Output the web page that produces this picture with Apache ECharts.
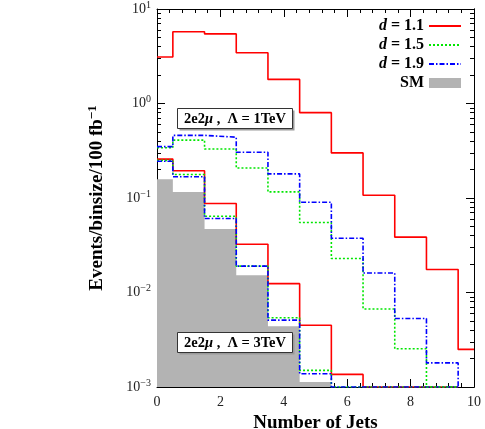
<!DOCTYPE html>
<html>
<head>
<meta charset="utf-8">
<script src="https://cdn.jsdelivr.net/npm/echarts@6/dist/echarts.min.js"></script>
<style>
  html, body { margin: 0; padding: 0; background: #fff; }
  #main { width: 485px; height: 429px; }
</style>
</head>
<body>
<div id="main"></div>
<script>
// bins are centred on 0,1,...,10 jets, each 1 wide (first one clipped at 0)
var X_MIN = 0, X_MAX = 10;
var Y_MIN = 0.001, Y_MAX = 10;

// Lambda = 1 TeV
var d11_1tev = [3.1, 5.75, 5.45, 3.45, 1.8, 0.8, 0.3, 0.107, 0.0385, 0.0175, 0.0025];
var d15_1tev = [0.34, 0.41, 0.33, 0.208, 0.116, 0.055, 0.0229, 0.0067, 0.00254, 0, 0];
var d19_1tev = [0.35, 0.46, 0.44, 0.305, 0.18, 0.09, 0.0375, 0.0161, 0.0053, 0.0018, 0];

// Lambda = 3 TeV
var d11_3tev = [0.258, 0.194, 0.0875, 0.0324, 0.0124, 0.0045, 0.00136, 0, 0, 0, 0];
var d15_3tev = [0.25, 0.177, 0.064, 0.019, 0.0054, 0.0015, 0, 0, 0, 0, 0];
var d19_3tev = [0.245, 0.168, 0.0607, 0.019, 0.0051, 0.00138, 0, 0, 0, 0, 0];

// standard model background
var sm = [0.158, 0.116, 0.047, 0.0152, 0.0044, 0.00113, 0];

var legendNames = ["d = 1.1", "d = 1.5", "d = 1.9", "SM"];
var xTicks = [0, 2, 4, 6, 8, 10];
// minor log ticks, as exponents (2..9 within every decade)
var yMinorExp = [];
[-3, -2, -1, 0].forEach(function (e) {
  for (var k = 2; k <= 9; k++) yMinorExp.push(e + Math.log10(k));
});

// turn bin contents into histogram step points (left edges + closing edge)
function stepData(values) {
  var pts = values.map(function (v, i) {
    return [Math.max(i - 0.5, X_MIN), v > 0 ? v : Y_MIN];
  });
  var last = values.length - 1;
  if (values[last] > 0) {
    pts.push([Math.min(last + 0.5, X_MAX), values[last]]);
  }
  return pts;
}

var RED = "#ff0000", GREEN = "#00e600", BLUE = "#0000ff", GREY = "#b3b3b3";
var FONT = "Liberation Serif";
var DOTTED = [2, 2];
var DASHDOT = [5, 2, 1.5, 2];

function histLine(name, values, color, type) {
  return {
    type: "line",
    name: name,
    step: "end",
    symbol: "none",
    data: stepData(values),
    z: 3,
    lineStyle: { color: color, width: 1.6, type: type },
    itemStyle: { color: color },
    emphasis: { disabled: true },
  };
}

var chartDom = document.getElementById("main");
var myChart = echarts.init(chartDom);
var option;

// extra exponent-space axes, only used to draw the tick marks
function yTickAxis(position, length, minor) {
  var ax = {
    type: "value",
    min: -3,
    max: 1,
    interval: 1,
    position: position,
    axisLine: { show: position === "right", onZero: false, lineStyle: { color: "#000", width: 1 } },
    axisTick: { show: true, inside: true, length: length, lineStyle: { color: "#000" } },
    axisLabel: { show: false },
    splitLine: { show: false },
  };
  if (minor) ax.axisTick.customValues = yMinorExp;
  return ax;
}

function xAxisAt(position, withLabels) {
  var ax = {
    type: "value",
    min: X_MIN,
    max: X_MAX,
    interval: 2,
    position: position,
    axisLine: { onZero: false, lineStyle: { color: "#000", width: 1 } },
    axisTick: { inside: true, length: 8, lineStyle: { color: "#000" } },
    minorTick: { show: true, splitNumber: 5, length: 4, lineStyle: { color: "#000" } },
    axisLabel: { show: false },
    splitLine: { show: false },
  };
  if (withLabels) {
    ax.name = "Number of Jets";
    ax.nameLocation = "middle";
    ax.nameGap = 24;
    ax.nameTextStyle = { fontFamily: FONT, fontSize: 19, fontWeight: "bold", color: "#000" };
    ax.axisLabel = { fontFamily: FONT, fontSize: 14, color: "#222", margin: 8, customValues: xTicks };
  }
  return ax;
}

var labelRich = {
  b: { fontFamily: FONT, fontSize: 16, fontWeight: "bold", color: "#000" },
  i: { fontFamily: FONT, fontSize: 16, fontWeight: "bold", fontStyle: "italic", color: "#000" },
};

function boxLabel(top, tev) {
  return {
    type: "group",
    left: 177,
    top: top,
    z: 100,
    children: [
      { type: "rect", z: 100, shape: { x: 2, y: 2, width: 115, height: 20 }, style: { fill: "#9a9a9a" } },
      { type: "rect", z: 101, shape: { x: 0, y: 0, width: 115, height: 20 }, style: { fill: "#fff", stroke: "#333", lineWidth: 1 } },
      {
        type: "text",
        z: 102,
        x: 57.5,
        y: 10.5,
        style: {
          text: "{b|2e2}{i|μ}{b| ,  Λ = " + tev + "TeV}",
          align: "center",
          verticalAlign: "middle",
          rich: {
            b: { fontFamily: FONT, fontSize: 14.5, fontWeight: "bold", fill: "#000" },
            i: { fontFamily: FONT, fontSize: 14.5, fontWeight: "bold", fontStyle: "italic", fill: "#000" },
          },
        },
      },
    ],
  };
}

option = {
  backgroundColor: "#fff",
  animation: false,
  grid: { left: 157, right: 11, top: 9, bottom: 42, containLabel: false, outerBoundsMode: "none" },
  legend: {
    orient: "vertical",
    right: 18,
    top: 13,
    align: "right",
    itemWidth: 32,
    itemHeight: 10,
    itemGap: 3,
    selectedMode: false,
    itemStyle: { opacity: 0 },
    lineStyle: { width: 2 },
    data: [
      { name: legendNames[0] },
      { name: legendNames[1] },
      { name: legendNames[2] },
      { name: legendNames[3], icon: "rect", itemStyle: { color: GREY, opacity: 1 } },
    ],
    formatter: function (name) {
      if (name === "SM") return "{b|SM}";
      return "{i|d}{b| = " + name.split("= ")[1] + "}";
    },
    textStyle: { lineHeight: 16, rich: labelRich },
  },
  xAxis: [xAxisAt("bottom", true), xAxisAt("top", false)],
  yAxis: [
    {
      type: "log",
      min: Y_MIN,
      max: Y_MAX,
      position: "left",
      name: "Events/binsize/100 fb{sup|−1}",
      nameLocation: "middle",
      nameGap: 48,
      nameTextStyle: {
        fontFamily: FONT,
        fontSize: 19,
        fontWeight: "bold",
        color: "#000",
        rich: {
          sup: { fontFamily: FONT, fontSize: 13, fontWeight: "bold", color: "#000", verticalAlign: "top", padding: [0, 0, 10, 0] },
        },
      },
      axisLine: { onZero: false, lineStyle: { color: "#000", width: 1 } },
      axisTick: { inside: true, length: 8, lineStyle: { color: "#000" } },
      axisLabel: {
        margin: 6,
        formatter: function (v) {
          var e = Math.round(Math.log10(v));
          return "{n|10}{s|" + String(e).replace("-", "−") + "}";
        },
        rich: {
          n: { fontFamily: FONT, fontSize: 14, color: "#222" },
          s: { fontFamily: FONT, fontSize: 10, color: "#222", verticalAlign: "top", padding: [0, 0, 8, 0] },
        },
      },
      splitLine: { show: false },
    },
    yTickAxis("left", 4, true),
    yTickAxis("right", 8, false),
    yTickAxis("right", 4, true),
  ],
  graphic: [boxLabel(108, 1), boxLabel(332, 3)],
  series: [
    {
      type: "line",
      name: "SM",
      step: "end",
      symbol: "none",
      data: stepData(sm),
      z: 1,
      lineStyle: { width: 0, color: GREY },
      itemStyle: { color: GREY },
      areaStyle: { color: GREY, opacity: 1, origin: "start" },
      emphasis: { disabled: true },
    },
    histLine("d = 1.1 (3TeV)", d11_3tev, RED, "solid"),
    histLine("d = 1.5 (3TeV)", d15_3tev, GREEN, DOTTED),
    histLine("d = 1.9 (3TeV)", d19_3tev, BLUE, DASHDOT),
    histLine(legendNames[0], d11_1tev, RED, "solid"),
    histLine(legendNames[1], d15_1tev, GREEN, DOTTED),
    histLine(legendNames[2], d19_1tev, BLUE, DASHDOT),
  ],
};
option && myChart.setOption(option);
</script>
</body>
</html>
